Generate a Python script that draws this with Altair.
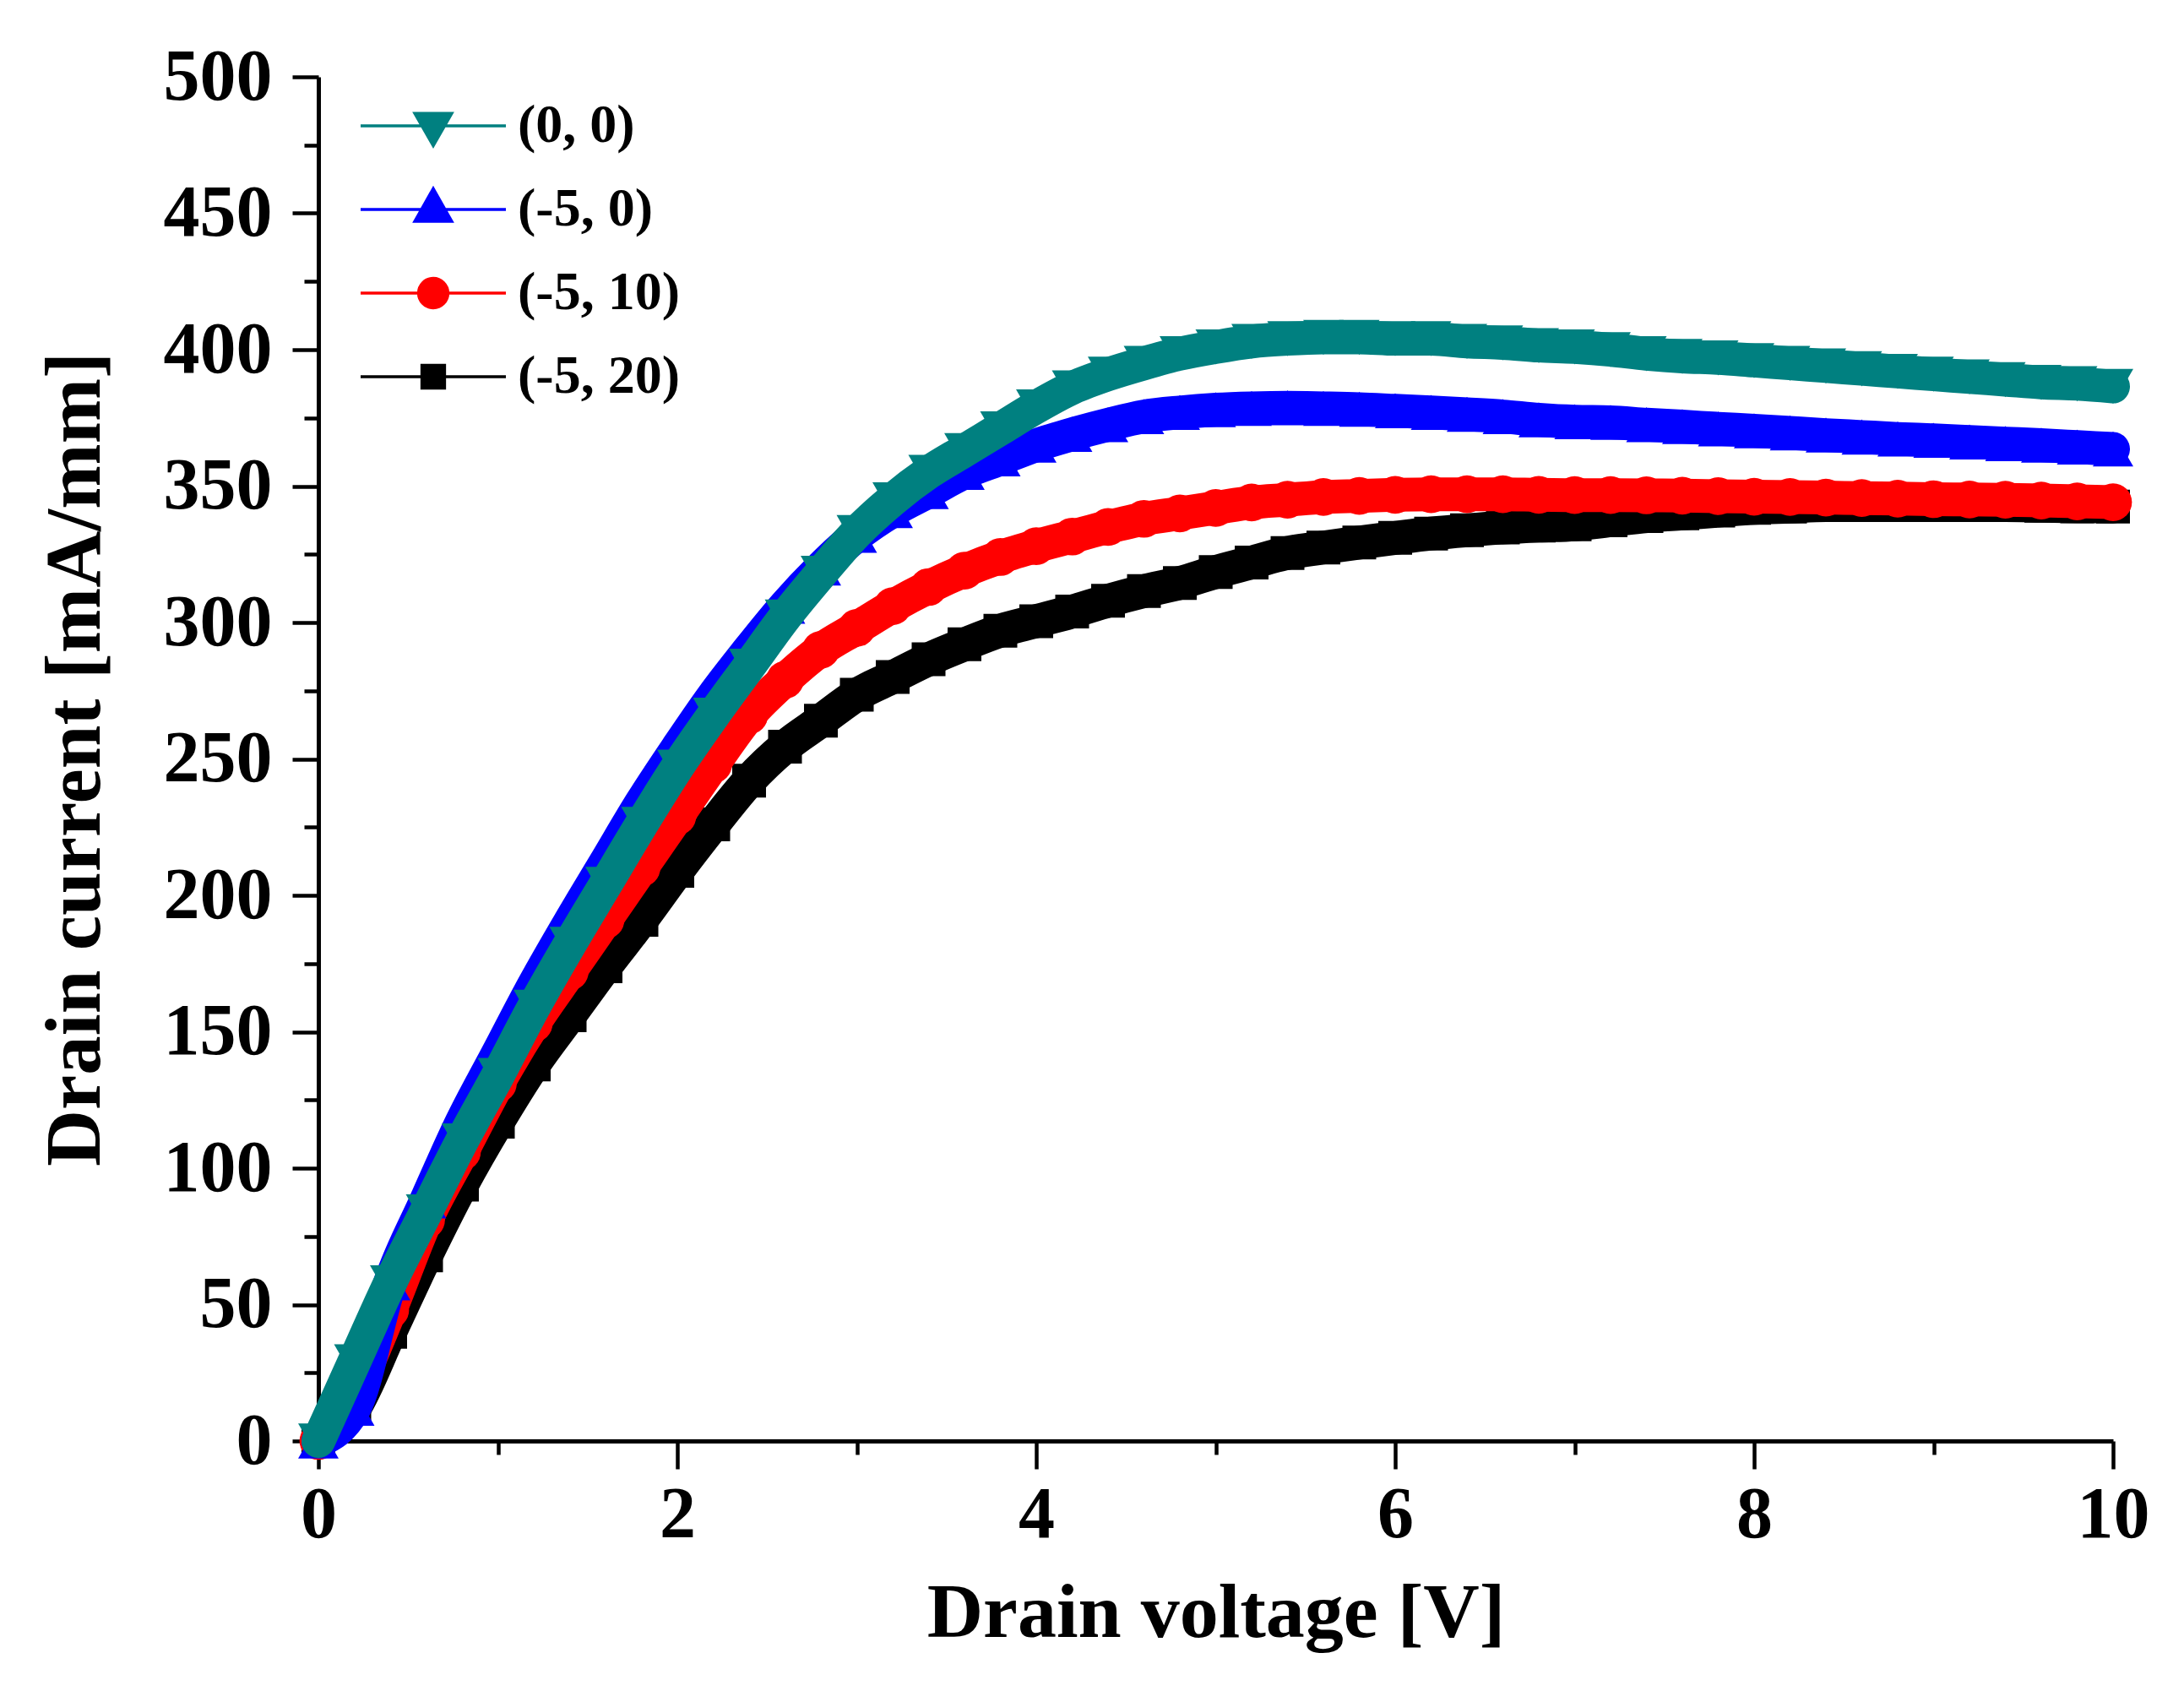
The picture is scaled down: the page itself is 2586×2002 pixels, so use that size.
import altair as alt
import pandas as pd

# Drain voltage sweep [V], every 0.2 V
voltage = [0.0, 0.2, 0.4, 0.6, 0.8, 1.0, 1.2, 1.4, 1.6, 1.8,
           2.0, 2.2, 2.4, 2.6, 2.8, 3.0, 3.2, 3.4, 3.6, 3.8,
           4.0, 4.2, 4.4, 4.6, 4.8, 5.0, 5.2, 5.4, 5.6, 5.8,
           6.0, 6.2, 6.4, 6.6, 6.8, 7.0, 7.2, 7.4, 7.6, 7.8,
           8.0, 8.2, 8.4, 8.6, 8.8, 9.0, 9.2, 9.4, 9.6, 9.8, 10.0]

# Drain current [mA/mm] for each quiescent bias point
current_0_0 = [0, 29, 58, 84, 110, 134, 159, 182, 204, 226,
               247, 266, 284, 302, 318, 333, 345, 355, 363, 371,
               379, 386, 391, 395, 398.5, 401, 403, 404, 404.5, 404.5,
               404, 404, 403, 402.5, 401.5, 401, 400, 398.5, 397.5, 397,
               396, 395, 394, 393, 392, 391, 390, 389, 388, 387.5, 386.5]
current_m5_0 = [0, 12, 58, 88, 117, 142, 167, 190, 212, 234,
                254, 273, 290, 306, 320, 332, 341, 348, 355, 360,
                365, 369, 372.5, 375.5, 377, 378, 378.5, 378.7, 378.5, 378.2,
                377.6, 377, 376.3, 375.5, 374.3, 373.6, 373.4, 372.5, 371.8, 371,
                370.3, 369.5, 368.7, 368, 367.3, 366.8, 366.2, 365.6, 365, 364.3, 363.6]
current_m5_10 = [0, 18, 48, 81, 106, 131, 153, 172, 191, 210,
                 229, 248, 266, 279, 290, 298, 306, 313, 319, 324,
                 328, 331.5, 335, 338, 340, 342, 344, 345, 346, 346.4,
                 346.8, 347, 347, 347, 346.8, 346.7, 346.7, 346.6, 346.5, 346.3,
                 346.1, 346, 345.8, 345.6, 345.4, 345.2, 345.1, 345, 344.7, 344.4, 344.1]
current_m5_20 = [0, 12, 40, 68, 94, 117, 138, 156, 174, 191,
                 209, 226, 242, 254.5, 264, 273.5, 280, 286.5, 292, 297,
                 300.5, 304, 308, 311.5, 314.5, 318.5, 322, 325.5, 327.5, 329.3,
                 331, 332.6, 333.8, 334.8, 335.5, 336, 337.5, 339, 340, 341,
                 342, 342.5, 343, 343, 343, 343, 343, 343, 342.8, 342.6, 342.5]

bias_names = ["(0, 0)", "(-5, 0)", "(-5, 10)", "(-5, 20)"]
bias_colors = ["#008080", "#0000ff", "#ff0000", "#000000"]

x_ticks = [0, 1, 2, 3, 4, 5, 6, 7, 8, 9, 10]
y_ticks = [0, 25, 50, 75, 100, 125, 150, 175, 200, 225, 250, 275, 300,
           325, 350, 375, 400, 425, 450, 475, 500]

# legend glyphs: a line segment with the series marker on it
legend_paths = [
    "M-3.66,0H3.66M-0.93,-0.63L0.93,-0.63L0,1.0Z",
    "M-3.66,0H3.66M0,-1.05L0.93,0.6L-0.93,0.6Z",
    "M-3.66,0H3.66M-0.74,0A0.74,0.74,0,1,0,0.74,0A0.74,0.74,0,1,0,-0.74,0Z",
    "M-3.66,0H3.66M-0.57,-0.57H0.57V0.57H-0.57Z",
]

frames = []
for name, values in zip(bias_names, [current_0_0, current_m5_0, current_m5_10, current_m5_20]):
    frames.append(pd.DataFrame({"V": voltage, "I": values, "bias": name}))
df = pd.concat(frames, ignore_index=True)

FONT = "Liberation Serif"

x_enc = alt.X("V:Q", scale=alt.Scale(domain=[0, 10], nice=False, zero=False),
              axis=alt.Axis(values=x_ticks, grid=False,
                            labelExpr="datum.value % 2 === 0 ? datum.label : ''",
                            tickSize={"condition": {"test": "datum.value % 2 === 0", "value": 33}, "value": 16},
                            tickWidth=4.5, tickColor="black", domainColor="black", domainWidth=5,
                            labelFont=FONT, labelFontSize=86, labelFontWeight="bold", labelColor="black",
                            labelPadding=12, labelFlush=False, labelOverlap=False,
                            title="Drain voltage [V]", titleFont=FONT, titleFontSize=92,
                            titleFontWeight="bold", titleColor="black", titlePadding=28))
y_enc = alt.Y("I:Q", scale=alt.Scale(domain=[0, 500], nice=False),
              axis=alt.Axis(values=y_ticks, grid=False,
                            labelExpr="datum.value % 50 === 0 ? datum.label : ''",
                            tickSize={"condition": {"test": "datum.value % 50 === 0", "value": 31}, "value": 17},
                            tickWidth=4.5, tickColor="black", domainColor="black", domainWidth=5,
                            labelFont=FONT, labelFontSize=86, labelFontWeight="bold", labelColor="black",
                            labelPadding=24, labelOverlap=False,
                            title="Drain current [mA/mm]", titleFont=FONT, titleFontSize=93,
                            titleFontWeight="bold", titleColor="black", titlePadding=56))


def curve(name, color, shape, size):
    base = alt.Chart(df).transform_filter(alt.datum.bias == name)
    line = base.mark_line(color=color, strokeWidth=40, strokeJoin="round", strokeCap="round",
                          interpolate="monotone").encode(x=x_enc, y=y_enc)
    pts = base.mark_point(shape=shape, filled=True, color=color, size=size, opacity=1).encode(
        x=x_enc, y=y_enc)
    return line + pts


legend = alt.Legend(title="", orient="none", legendX=104, legendY=26, padding=0,
                    labelFont=FONT, labelFontSize=64, labelFontWeight="bold", labelColor="black",
                    labelLimit=500, symbolSize=2209, symbolStrokeWidth=3.5, symbolOpacity=1,
                    rowPadding=35, labelOffset=68)

legend_layer = alt.Chart(df).transform_filter(alt.datum.V == 0).mark_point(
    filled=True, opacity=0).encode(
    x=x_enc, y=y_enc,
    fill=alt.Fill("bias:N", scale=alt.Scale(domain=bias_names, range=bias_colors), legend=legend),
    stroke=alt.Stroke("bias:N", scale=alt.Scale(domain=bias_names, range=bias_colors), legend=legend),
    shape=alt.Shape("bias:N", scale=alt.Scale(domain=bias_names, range=legend_paths), legend=legend),
)

chart = alt.layer(
    curve("(-5, 20)", "#000000", "square", 1600),
    curve("(-5, 10)", "#ff0000", "circle", 2000),
    curve("(-5, 0)", "#0000ff", "triangle-up", 2300),
    curve("(0, 0)", "#008080", "triangle-down", 2300),
    legend_layer,
).properties(
    width=2125, height=1615,
    autosize=alt.AutoSizeParams(type="none"),
    padding={"left": 369, "top": 83, "right": 60, "bottom": 280},
).configure_view(strokeWidth=0)

chart.save("out.html", embed_options={"renderer": "svg", "actions": False})
